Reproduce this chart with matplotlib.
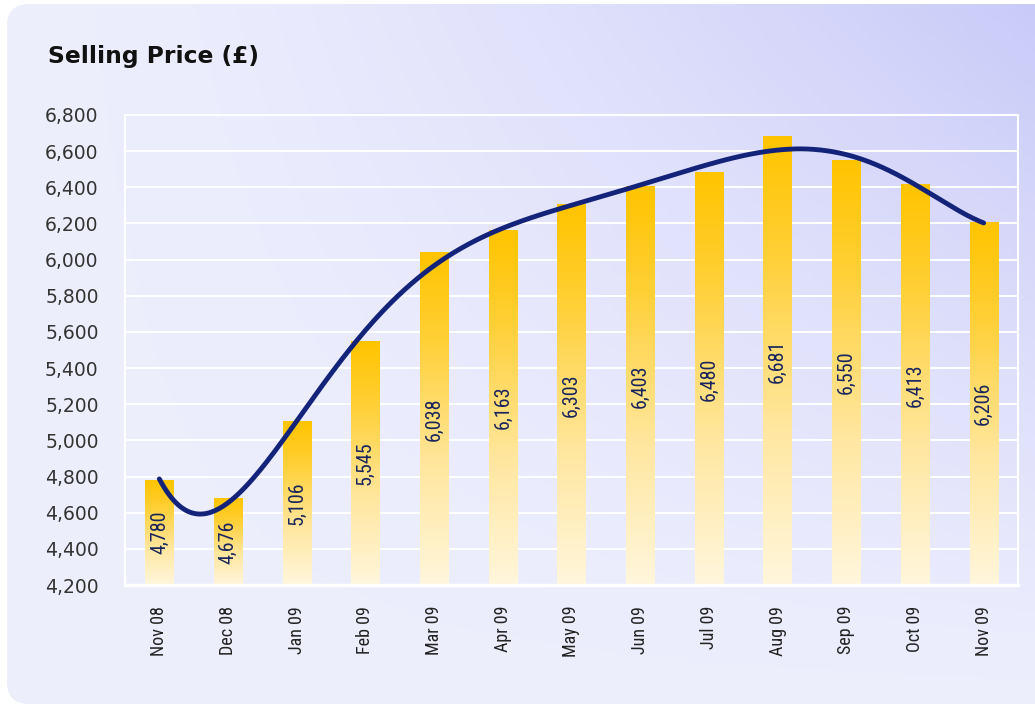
import numpy as np
import matplotlib
matplotlib.use("Agg")
import matplotlib.pyplot as plt
from matplotlib.patches import FancyBboxPatch
from matplotlib.colors import LinearSegmentedColormap, to_rgb
from matplotlib.ticker import FuncFormatter, MultipleLocator

# ---- data ----
months = ["Nov 08", "Dec 08", "Jan 09", "Feb 09", "Mar 09", "Apr 09", "May 09",
          "Jun 09", "Jul 09", "Aug 09", "Sep 09", "Oct 09", "Nov 09"]
prices = [4780, 4676, 5106, 5545, 6038, 6163, 6303, 6403, 6480, 6681, 6550, 6413, 6206]
title = "Selling Price (£)"
y_min, y_max, y_step = 4200, 6800, 200
trend_degree = 6

COND = ["Roboto Condensed", "Open Sans Condensed", "Liberation Sans Narrow",
        "Liberation Sans", "DejaVu Sans"]

W, H = 1035, 708
fig = plt.figure(figsize=(W / 100, H / 100), dpi=100)
fig.patch.set_facecolor("white")

# ---- background gradient panel ----
bg = fig.add_axes([0, 0, 1, 1], zorder=0)
bg.set_xlim(0, W)
bg.set_ylim(H, 0)
bg.axis("off")
xx, yy = np.meshgrid(np.linspace(0, 1, 300), np.linspace(0, 1, 200))
t = np.clip((xx ** 1.5) * ((1 - yy) ** 1.1), 0, 1)
light = np.array(to_rgb("#eeeffd"))
purple = np.array(to_rgb("#c9caf8"))
img = light[None, None, :] * (1 - t[..., None]) + purple[None, None, :] * t[..., None]
im = bg.imshow(img, extent=[0, W, H, 0], aspect="auto", zorder=0)
panel = FancyBboxPatch((7, 4), W + 40, H - 8, boxstyle="round,pad=0,rounding_size=22",
                       transform=bg.transData, facecolor="none", edgecolor="none")
bg.add_patch(panel)
im.set_clip_path(panel)

fig.text(48 / W, 1 - 56 / H, title, fontsize=16.8, fontweight="bold",
         color="#111111", va="center", ha="left", family="DejaVu Sans")

# ---- main axes ----
left, right, top, bottom = 125, 1018, 115, 585
ax = fig.add_axes([left / W, 1 - bottom / H, (right - left) / W, (bottom - top) / H], zorder=1)
ax.set_facecolor("none")
x = np.arange(len(months))

for s in ax.spines.values():
    s.set_color("white")
    s.set_linewidth(1.5)
ax.spines["bottom"].set_linewidth(2.5)

ax.yaxis.set_major_locator(MultipleLocator(y_step))
ax.yaxis.set_major_formatter(FuncFormatter(lambda v, p: f"{int(v):,}"))
ax.grid(axis="y", color="white", linewidth=1.4, zorder=1)
ax.set_axisbelow(True)
ax.tick_params(axis="y", length=0, pad=19, labelsize=13.5, labelcolor="#333333")
ax.tick_params(axis="x", length=0, pad=15, labelsize=13, labelcolor="#222222")
ax.set_xticks(x)
ax.set_xticklabels(months, rotation=90, family=COND)

# bars with vertical gradient
bar_cmap = LinearSegmentedColormap.from_list(
    "gold", [(0.0, "#fff6dc"), (0.35, "#ffe7a0"), (0.75, "#ffcf33"), (1.0, "#ffc400")])
bw = 0.41
grad = np.linspace(0, 1, 256)[:, None]
for xi, v in zip(x, prices):
    ax.imshow(grad, extent=[xi - bw / 2, xi + bw / 2, y_min, v], origin="lower",
              cmap=bar_cmap, aspect="auto", zorder=2, interpolation="bilinear")
    ax.text(xi, (y_min + v) / 2, f"{v:,}", rotation=90, ha="center", va="center",
            fontsize=14.5, color="#18245c", zorder=4, family=COND)
ax.set_xlim(-0.5, len(months) - 0.5)
ax.set_ylim(y_min, y_max)
ax.set_aspect("auto")
for lab in ax.get_yticklabels():
    lab.set_family("DejaVu Sans")

# polynomial trendline
coef = np.polyfit(x, prices, trend_degree)
xs = np.linspace(0, len(months) - 1, 400)
ax.plot(xs, np.polyval(coef, xs), color="#14237a", linewidth=3.5, zorder=3,
        solid_capstyle="round")

fig.savefig("out.png", dpi=100)
